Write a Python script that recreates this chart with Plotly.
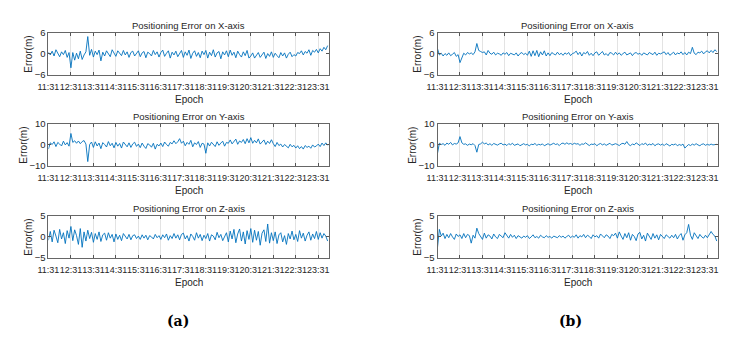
import plotly.graph_objects as go
import pandas as pd

# ---------------- data ----------------
epochs = pd.date_range("2020-01-01 11:31", periods=150, freq="5min")
tick_times = pd.date_range("2020-01-01 11:31", periods=13, freq="60min")
tick_labels = ["11:31", "12:31", "13:31", "14:31", "15:31", "16:31", "17:31",
               "18:31", "19:31", "20:31", "21:31", "22:31", "23:31"]
x_end = "2020-01-02 00:00"

# (a) left column
a_x = [0.5, -0.3, 0.8, -0.6, 1.2, 0.1, -0.8, 0.6, -0.2, 1.0, -1.0, 0.4,
       -4.0, 0.4, -1.8, 0.2, -1.4, 0.8, -1.6, -0.3, 0.6, 5.0, -0.4, 1.3,
       -0.9, 0.8, -0.2, 1.1, -2.0, 0.5, -0.6, 0.9, 0.0, -0.8, 1.2, 0.2,
       -0.7, 0.9, 0.3, -0.5, 1.0, -0.3, 0.6, -1.0, 0.4, 0.8, -0.6, 0.2,
       0.9, -0.8, 0.3, 0.7, -1.1, 0.5, 0.1, -0.6, 1.0, -0.2, 0.6, -0.9,
       0.4, 1.1, -0.7, 0.2, 0.9, -1.2, 0.5, -0.3, 0.8, -0.8, 0.3, 1.0,
       -1.0, 0.6, -0.4, 1.1, -1.3, 0.2, 0.9, -0.7, 0.4, -1.1, 0.8, -0.2,
       1.0, -1.2, 0.5, -0.5, 1.2, -0.9, 0.3, 0.7, -1.4, 0.6, -0.3, 0.9,
       -0.8, 1.1, -0.4, 0.5, -1.1, 0.8, -0.2, -0.9, 0.6, -0.5, 1.0, -1.2,
       -0.6, 0.3, -1.2, -0.2, 0.4, -1.0, -0.3, 0.5, -1.3, 0.1, -0.7, 0.6,
       -1.0, 0.2, -0.5, -1.1, 0.4, -0.6, 0.3, -1.2, -0.1, 0.5, -0.8, -0.2,
       -0.6, 0.4, 0.1, 0.9, -0.3, 0.7, 0.2, 1.2, -0.4, 1.0, 0.5, 1.3,
       0.3, 1.5, 0.8, 1.9, 1.2, 2.4]
a_y = [-2.0, 1.0, 0.2, 1.5, -0.8, 1.2, 0.4, -0.5, 1.8, 0.0, 1.1, -0.6,
       5.5, 1.2, 2.0, 0.8, 1.9, 0.6, 1.6, 2.1, 0.4, -8.0, 0.2, 1.4,
       -1.2, 1.5, -0.5, 0.9, -1.8, 1.1, 0.2, -1.0, 1.6, -0.4, 0.8, -1.4,
       1.2, -0.6, 0.7, -1.5, 1.4, 0.1, -0.9, 1.0, -1.2, 0.5, 1.3, -0.7,
       0.4, -1.3, 0.9, -0.6, -1.7, 0.6, 0.0, -1.1, 0.8, -2.0, 0.3, -0.5,
       0.9, -0.8, 1.4, 0.2, -0.6, 1.2, 0.5, 2.0, 0.6, 1.5, 3.0, 0.8,
       1.8, -0.4, 1.2, 0.3, 2.2, -0.9, 1.0, 0.2, 1.6, -1.2, 0.8, 0.4,
       -4.0, 1.0, -0.5, 1.3, 0.2, -0.8, 1.5, -0.2, 0.9, 1.8, -0.6, 1.2,
       0.8, 2.4, 0.5, 1.8, 2.8, 0.3, 1.9, 1.2, 2.6, 0.6, 3.0, 1.0,
       3.5, 0.8, 2.2, 1.0, 2.9, 0.4, 1.6, 2.4, 0.2, 1.8, 0.7, 2.5,
       0.6, -0.8, 1.2, -0.3, 0.4, -1.0, 0.2, -0.6, -1.4, 0.3, -0.9, -0.2,
       -1.5, -0.4, -1.8, -0.8, -2.0, -0.3, -1.2, -0.6, -1.6, 0.0, -1.0, -0.5,
       0.4, -0.8, 0.9, -0.3, 1.0, -0.2]
a_z = [-0.8, 1.3, -1.2, 1.6, 0.2, -1.4, 1.8, -0.5, 1.0, -1.6, 1.5, -0.3,
       2.5, -0.9, 1.7, 0.3, -1.8, 2.0, -2.5, 1.2, -1.0, 1.6, -0.4, 1.1,
       -1.3, 0.8, -0.6, 1.2, -1.1, 0.5, 0.9, -0.8, 1.0, -0.3, 0.6, -1.2,
       0.7, -0.6, 0.4, -0.9, 0.8, 0.1, -0.5, 0.6, -0.7, 0.3, 0.5, -0.4,
       0.2, -0.6, 0.5, -0.3, 0.4, -0.7, 0.3, 0.0, -0.5, 0.6, -0.2, 0.3,
       -0.6, 0.5, -0.2, 0.7, -0.8, 0.3, -0.4, 0.8, -0.3, 0.5, -0.7, 0.6,
       0.9, -0.5, 0.3, -1.0, 0.7, 0.1, -0.8, 1.0, -0.3, 0.6, -0.9, 0.4,
       -0.4, 0.8, -1.0, 0.5, 0.2, -0.7, 1.1, -0.2, 0.6, -0.9, 0.3, 1.0,
       -1.2, 1.4, -0.5, 1.8, -1.4, 0.7, 1.9, -1.0, 1.2, -1.7, 1.5, -0.6,
       2.0, -1.3, 1.6, -0.8, 1.3, -2.0, 0.9, 1.7, -1.1, 3.1, -1.5, 1.0,
       -0.9, 1.2, -1.6, 0.5, 1.0, -1.2, 0.3, -1.8, 0.8, -0.5, 1.4, -0.7,
       0.6, -1.1, 1.5, -0.3, 0.9, -1.0, 0.4, 1.2, -0.8, 0.7, -0.4, 1.3,
       -0.6, 1.0, -0.3, 0.8, 0.2, -1.0]

# (b) right column
b_x = [1.5, -0.3, 0.2, -0.6, 0.1, -0.4, 0.3, -0.5, -0.1, 0.4, -0.7, -0.2,
       -2.5, -0.8, 0.2, -0.3, 0.4, 0.0, 0.3, -0.2, 0.6, 3.0, 1.0, 0.7,
       0.4, 0.6, -0.3, 1.0, 0.2, -0.1, 0.5, -0.3, 0.2, 0.0, -0.4, 0.3,
       -0.1, 0.4, -0.5, 0.2, 0.0, -0.3, 0.3, -0.6, 0.1, 0.4, -0.2, 0.2,
       -0.4, 0.8, -0.7, 0.9, -0.5, 1.0, -0.8, 0.6, -0.3, 0.9, -0.6, 0.3,
       -0.5, 0.4, 0.0, -0.3, 0.5, -0.2, 0.2, -0.4, 0.3, -0.1, 0.4, -0.5,
       0.1, 0.3, 0.8, -0.2, 0.5, -0.6, 0.4, 0.0, 0.7, -0.4, 0.2, -0.5,
       0.3, 0.6, -0.4, 0.2, 0.7, -0.3, 0.1, -0.5, 0.4, 0.2, -0.3, 0.5,
       -0.2, 0.3, -0.4, 0.1, 0.5, -0.3, 0.0, 0.3, -0.5, 0.2, 0.4, -0.1,
       0.2, -0.4, 0.3, 0.0, -0.3, 0.4, 0.1, -0.2, 0.5, -0.4, 0.2, 0.0,
       0.3, 0.6, -0.2, 0.4, -0.4, 0.1, 0.5, -0.3, 0.3, 0.0, 0.6, -0.2,
       0.4, -0.3, 0.5, 0.1, 1.9, 0.2, -0.2, 0.5, 0.3, 0.8, 0.0, 0.6,
       0.9, 0.3, 1.0, 0.4, 1.2, 0.7]
b_y = [-4.0, 0.8, 0.2, 0.6, -0.2, 0.9, 0.3, 1.2, 0.0, 0.7, 0.4, 1.0,
       4.0, 1.0, 0.3, 0.5, -0.2, 0.4, 0.1, 0.6, -0.3, -3.5, 0.2, 0.5,
       1.3, 0.5, 0.9, 0.0, 0.6, -0.2, 0.7, 0.3, -0.1, 0.5, 0.8, 0.0,
       0.4, -0.3, 0.6, 0.1, 0.8, -0.2, 0.3, 0.5, -0.4, 0.2, 0.6, 0.0,
       0.3, -0.5, 0.4, 0.1, 0.7, -0.2, 0.3, 0.0, 0.5, -0.4, 0.2, 0.6,
       -0.1, 0.4, 0.8, 0.2, 0.5, -0.3, 0.6, 0.9, 0.3, 1.0, 0.4, 0.7,
       0.2, 0.8, 0.4, 0.6, -0.2, 0.5, 0.3, 1.0, 0.1, -0.3, 0.4, 0.2,
       0.6, -0.4, 0.3, 0.7, 0.0, 0.5, -0.2, 0.4, 0.8, -0.1, 0.3, 0.6,
       0.2, -0.3, 0.5, 0.8, 0.3, 1.6, 0.2, -0.4, 0.5, 0.0, 1.0, 0.3,
       -0.3, 0.6, 0.2, 0.9, -0.2, 0.4, 0.0, 0.7, -0.4, 0.3, 0.5, -0.1,
       0.4, -0.3, 0.6, 0.1, -0.5, 0.3, 0.0, 0.5, -0.4, 0.2, -0.2, 0.4,
       -1.5, -0.6, 0.2, -0.3, 0.4, -0.1, 0.6, 0.0, -0.4, 0.3, 0.5, -0.2,
       0.3, -0.1, 0.4, 0.0, 0.2, 0.3]
b_z = [-2.5, 1.8, 0.2, 0.9, -0.4, 0.6, -0.2, 0.8, 0.0, -0.6, 0.7, 0.1,
       0.5, -0.4, 0.8, -0.2, 0.6, 0.3, -1.5, 0.4, -0.3, 2.1, 0.8, 0.2,
       -0.6, 0.9, -0.3, 0.5, 0.2, -0.5, 0.7, 0.0, -0.4, 0.6, 0.1, -0.2,
       1.0, 0.2, -0.3, 0.6, -0.1, 0.4, -0.4, 0.3, 0.0, -0.3, 0.2, -0.1,
       0.3, -0.4, 0.0, 0.5, -0.2, 0.1, -0.3, 0.4, 0.0, -0.2, 0.3, -0.1,
       0.1, -0.3, 0.2, 0.0, -0.2, 0.3, -0.1, 0.2, -0.3, 0.1, 0.4, -0.2,
       0.2, -0.1, 0.5, -0.3, 0.3, 0.0, 0.6, -0.2, 0.4, 0.1, -0.4, 0.5,
       0.0, 0.3, -0.3, 0.7, 0.1, -0.2, 0.5, 0.2, -0.4, 0.6, 0.3, 0.9,
       -0.3, 1.2, 0.2, -0.6, 0.8, -0.2, 1.0, -0.8, 0.6, 0.1, -0.9, 0.7,
       1.1, -0.5, 0.4, -1.0, 0.9, 0.0, -0.6, 0.8, -0.3, 0.5, -0.7, 0.6,
       0.2, -0.4, 0.5, 0.0, -0.3, 0.4, -0.2, 0.6, -0.5, 0.3, 0.8, -0.8,
       0.5, 1.0, 3.0, 0.4, -0.6, 1.0, 0.2, -0.4, 0.6, 0.0, -0.3, 0.4,
       -0.2, 0.5, 1.3, 0.6, 0.2, -1.0]

titles = ["Positioning Error on X-axis", "Positioning Error on Y-axis",
          "Positioning Error on Z-axis"]
y_ranges = [[-6, 6], [-10, 10], [-5, 5]]
y_ticks = [[-6, 0, 6], [-10, 0, 10], [-5, 0, 5]]
panel_labels = ["(a)", "(b)"]

# ---------------- layout geometry (pixels) ----------------
W, H = 733, 345
cols = [(38, 323), (433, 718)]
rows = [(28, 71), (122, 165), (217, 260)]
ylab_off = [20, 25, 20]
FONT = "Liberation Sans"
TXT = "#262626"

series = [[a_x, a_y, a_z], [b_x, b_y, b_z]]

fig = go.Figure()
layout = {}
annotations = []
idx = 0
for c in range(2):
    x0, x1 = cols[c]
    for r in range(3):
        idx += 1
        y0, y1 = rows[r]
        xa = "x" if idx == 1 else f"x{idx}"
        ya = "y" if idx == 1 else f"y{idx}"
        suf = "" if idx == 1 else str(idx)
        fig.add_trace(go.Scatter(
            x=epochs, y=series[c][r], mode="lines",
            line=dict(color="#0072BD", width=0.9),
            xaxis=xa, yaxis=ya, showlegend=False, hoverinfo="skip"))
        layout["xaxis" + suf] = dict(
            domain=[x0 / W, x1 / W], anchor=ya,
            range=[epochs[0], x_end], tickvals=tick_times, ticktext=tick_labels,
            tickangle=0, ticklabelstandoff=3,
            ticks="inside", ticklen=3, tickcolor="#555", showline=True,
            mirror="ticks", linecolor="#666", linewidth=1,
            showgrid=True, gridcolor="#e3e3e3", gridwidth=1, zeroline=False,
            tickfont=dict(size=9, color=TXT, family=FONT))
        layout["yaxis" + suf] = dict(
            domain=[1 - y1 / H, 1 - y0 / H], anchor=xa,
            range=y_ranges[r], tickvals=y_ticks[r],
            ticks="inside", ticklen=3, tickcolor="#555", showline=True,
            mirror="ticks", linecolor="#666", linewidth=1,
            showgrid=False, zeroline=False,
            tickfont=dict(size=9.5, color=TXT, family=FONT))
        cx = (x0 + x1) / 2 / W
        annotations.append(dict(
            text=titles[r], x=cx, y=1 - (y0 - 8) / H, xref="paper", yref="paper",
            showarrow=False, xanchor="center", yanchor="middle",
            font=dict(size=9.5, color=TXT, family=FONT)))
        annotations.append(dict(
            text="Epoch", x=cx, y=1 - (y1 + 26) / H, xref="paper", yref="paper",
            showarrow=False, xanchor="center", yanchor="middle",
            font=dict(size=10, color=TXT, family=FONT)))
        annotations.append(dict(
            text="Error(m)", x=(x0 - ylab_off[r]) / W, y=1 - (y0 + y1) / 2 / H,
            xref="paper", yref="paper", textangle=-90,
            showarrow=False, xanchor="center", yanchor="middle",
            font=dict(size=10, color=TXT, family=FONT)))
    annotations.append(dict(
        text="<b>" + panel_labels[c] + "</b>", x=[170, 568][c] / W, y=1 - 325 / H,
        xref="paper", yref="paper", showarrow=False,
        xanchor="center", yanchor="middle",
        font=dict(size=14, color="#000", family="DejaVu Serif")))

fig.update_layout(
    width=W, height=H, margin=dict(l=0, r=0, t=0, b=0),
    paper_bgcolor="white", plot_bgcolor="white", hovermode=False,
    annotations=annotations, **layout)

fig.write_html("out.html", config={"displayModeBar": False},
               post_script="document.body.style.margin='0';document.body.style.padding='0';")
